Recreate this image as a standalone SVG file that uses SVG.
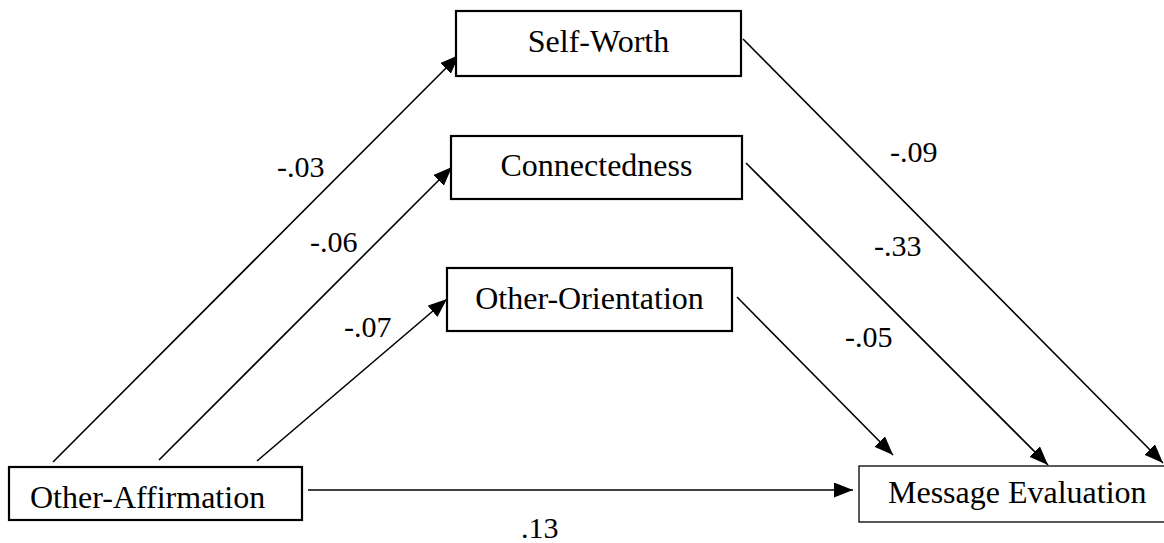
<svg xmlns="http://www.w3.org/2000/svg" width="1164" height="543" viewBox="0 0 1164 543">
<style>
.box{fill:#fff;stroke:#000;stroke-width:2.2}
.thin{fill:#fff;stroke:#000;stroke-width:1.3}
.t{font-family:"Liberation Serif","Times New Roman",serif;font-size:32px;fill:#000}
.c{text-anchor:middle}
.lab{font-family:"Liberation Serif","Times New Roman",serif;font-size:30px;fill:#000}
.ln{stroke:#000;stroke-width:1.6;fill:none;marker-end:url(#ah)}
</style>
<defs>
<marker id="ah" markerUnits="userSpaceOnUse" markerWidth="20" markerHeight="16" refX="19" refY="7.5" orient="auto">
<path d="M0,0 L19,7.5 L0,15 z" fill="#000"/>
</marker>
</defs>
<rect width="1164" height="543" fill="#fff"/>
<g id="connectors">
<line class="ln" x1="53" y1="462" x2="459" y2="55"/>
<line class="ln" x1="159" y1="460" x2="452" y2="167"/>
<line class="ln" x1="257" y1="461" x2="447" y2="299"/>
<line class="ln" x1="743" y1="39" x2="1163" y2="463"/>
<line class="ln" x1="746" y1="163" x2="1048" y2="465"/>
<line class="ln" x1="737" y1="297" x2="893" y2="455"/>
<line class="ln" x1="308" y1="490" x2="853" y2="490"/>
</g>
<g id="labels">
<text class="lab" x="277" y="177">-.03</text>
<text class="lab" x="310" y="252">-.06</text>
<text class="lab" x="344" y="337">-.07</text>
<text class="lab" x="890" y="162">-.09</text>
<text class="lab" x="874" y="256">-.33</text>
<text class="lab" x="845" y="347">-.05</text>
<text class="lab" x="521" y="538">.13</text>
</g>
<g id="self-worth">
<rect class="box" x="456" y="11" width="285" height="65"/>
<text class="t c" x="598.5" y="52">Self-Worth</text>
</g>
<g id="connectedness">
<rect class="box" x="451" y="136" width="291" height="63"/>
<text class="t c" x="596.5" y="176">Connectedness</text>
</g>
<g id="other-orientation">
<rect class="box" x="447" y="268" width="285" height="63"/>
<text class="t c" x="589.5" y="309">Other-Orientation</text>
</g>
<g id="other-affirmation">
<rect class="box" x="9" y="467" width="293" height="53"/>
<text class="t" x="30" y="508">Other-Affirmation</text>
</g>
<g id="message-evaluation">
<rect class="thin" x="859" y="466" width="307" height="56"/>
<text class="t" x="888" y="503">Message Evaluation</text>
</g>
</svg>
